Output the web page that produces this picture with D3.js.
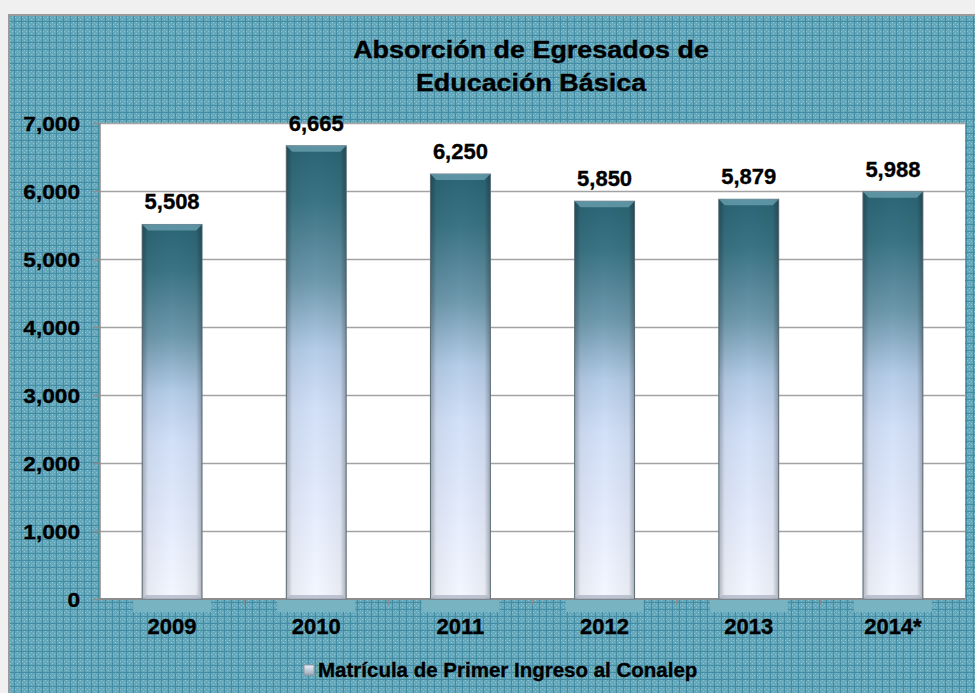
<!DOCTYPE html>
<html>
<head>
    <meta charset='utf-8'>
    <title>Absorción de Egresados de Educación Básica</title>
    <style>
        body { margin: 0; background: #f0f0f0; }
        svg text { font-family: "Liberation Sans", Arial, sans-serif; font-weight: bold; fill: #000; stroke: #000; stroke-width: 0.35px; }
        .grid line { stroke: #a3a3a3; stroke-width: 1.5; }
        .grid path { display: none; }
        .yaxis path { display: none; }
        .yaxis line { stroke: #8c8c8c; stroke-width: 1.5; }
        .yaxis text { font-size: 21px; }
    </style>
</head>
<body>
    <svg id="chart" width="975" height="693"></svg>

    <script src="https://cdn.jsdelivr.net/npm/d3@7"></script>
    <script>

        // data
        const years = ["2009", "2010", "2011", "2012", "2013", "2014*"];
        const matricula = [5508, 6665, 6250, 5850, 5879, 5988];
        const yTicks = [0, 1000, 2000, 3000, 4000, 5000, 6000, 7000];
        const titleLines = ["Absorción de Egresados de", "Educación Básica"];
        const seriesName = "Matrícula de Primer Ingreso al Conalep";

        const W = 975, H = 693;
        const plot = { left: 100, right: 965, top: 123, bottom: 599 };

        const svg = d3.select("#chart");
        const defs = svg.append("defs");

        // teal checked background
        const pat = defs.append("pattern")
            .attr("id", "bgpat")
            .attr("width", 7).attr("height", 7)
            .attr("patternUnits", "userSpaceOnUse");
        pat.append("rect").attr("width", 7).attr("height", 7).attr("fill", "#66a8bb");
        pat.append("rect").attr("x", 0).attr("y", 0).attr("width", 7).attr("height", 1).attr("fill", "#428da4");
        pat.append("rect").attr("x", 0).attr("y", 0).attr("width", 1).attr("height", 7).attr("fill", "#428da4");
        pat.append("rect").attr("x", 3).attr("y", 1).attr("width", 1).attr("height", 1).attr("fill", "#8ec3d0");
        pat.append("rect").attr("x", 3).attr("y", 5).attr("width", 1).attr("height", 1).attr("fill", "#8ec3d0");
        pat.append("rect").attr("x", 1).attr("y", 3).attr("width", 1).attr("height", 1).attr("fill", "#8ec3d0");
        pat.append("rect").attr("x", 5).attr("y", 3).attr("width", 1).attr("height", 1).attr("fill", "#8ec3d0");

        // bar fill
        const bg = defs.append("linearGradient")
            .attr("id", "barGrad")
            .attr("x1", 0).attr("y1", 0).attr("x2", 0).attr("y2", 1);
        [["0%", "#2b6575"], ["12%", "#3a7484"], ["30%", "#6f9aae"], ["45%", "#b5cde8"],
         ["58%", "#d2e0f8"], ["78%", "#e3ebfc"], ["100%", "#f4f7ff"]]
            .forEach(s => bg.append("stop").attr("offset", s[0]).attr("stop-color", s[1]));

        // side shading of the bevel
        const side = defs.append("linearGradient")
            .attr("id", "sideGrad")
            .attr("x1", 0).attr("y1", 0).attr("x2", 1).attr("y2", 0);
        [["0%", "#000", 0.28], ["10%", "#000", 0.05], ["50%", "#000", 0], ["90%", "#000", 0.05], ["100%", "#000", 0.3]]
            .forEach(s => side.append("stop").attr("offset", s[0]).attr("stop-color", s[1]).attr("stop-opacity", s[2]));

        const legGrad = defs.append("linearGradient")
            .attr("id", "legGrad")
            .attr("x1", 0).attr("y1", 0).attr("x2", 0).attr("y2", 1);
        legGrad.append("stop").attr("offset", "0%").attr("stop-color", "#eef2fb");
        legGrad.append("stop").attr("offset", "100%").attr("stop-color", "#9aa6b8");

        // outer frame
        svg.append("rect")
            .attr("x", 9).attr("y", 15)
            .attr("width", W).attr("height", H)
            .attr("fill", "url(#bgpat)")
            .attr("stroke", "#9a9a9a").attr("stroke-width", 2);

        // plot area
        svg.append("rect")
            .attr("x", plot.left).attr("y", plot.top)
            .attr("width", plot.right - plot.left).attr("height", plot.bottom - plot.top)
            .attr("fill", "#fff");

        const x = d3.scaleBand()
            .domain(years)
            .range([plot.left, plot.right])
            .paddingInner(0.584)
            .paddingOuter(0.292);

        const y = d3.scaleLinear()
            .domain([0, 7000])
            .range([plot.bottom, plot.top]);

        // gridlines
        svg.append("g")
            .attr("class", "grid")
            .attr("transform", `translate(${plot.left},0)`)
            .call(d3.axisLeft(y).tickValues(yTicks.slice(1)).tickSize(-(plot.right - plot.left)).tickFormat(""));

        // y axis, labels slightly widened around their right edge
        svg.append("g")
            .attr("class", "yaxis")
            .attr("transform", `translate(${plot.left},0)`)
            .call(d3.axisLeft(y).tickValues(yTicks).tickSize(7).tickPadding(13).tickFormat(d3.format(",")))
            .selectAll("text")
            .attr("dy", "0.35em")
            .attr("transform", "translate(-20,0) scale(1.08,1) translate(20,0)");

        svg.append("line")
            .attr("x1", plot.left).attr("x2", plot.left)
            .attr("y1", plot.top).attr("y2", plot.bottom)
            .attr("stroke", "#8c8c8c").attr("stroke-width", 1.5);

        const data = years.map((yr, i) => ({ year: yr, value: matricula[i] }));
        const bw = x.bandwidth();

        // light strip under the bars
        svg.selectAll(".shadow")
            .data(data)
            .enter()
            .append("rect")
            .attr("x", d => x(d.year) - 9)
            .attr("y", plot.bottom)
            .attr("width", bw + 18)
            .attr("height", 13)
            .attr("fill", "#78b3c2");

        // x axis line
        svg.append("line")
            .attr("x1", plot.left).attr("x2", plot.right)
            .attr("y1", plot.bottom).attr("y2", plot.bottom)
            .attr("stroke", "#8c8c8c").attr("stroke-width", 2);

        // ticks between categories
        svg.selectAll(".xtick")
            .data(years.slice(1))
            .enter()
            .append("line")
            .attr("x1", d => x(d) - x.step() * x.paddingInner() / 2)
            .attr("x2", d => x(d) - x.step() * x.paddingInner() / 2)
            .attr("y1", plot.bottom).attr("y2", plot.bottom + 6)
            .attr("stroke", "#8c8c8c").attr("stroke-width", 1.5);

        const bars = svg.selectAll(".bar")
            .data(data)
            .enter()
            .append("g")
            .attr("class", "bar");

        bars.append("rect")
            .attr("x", d => x(d.year))
            .attr("y", d => y(d.value))
            .attr("width", bw)
            .attr("height", d => y(0) - y(d.value))
            .attr("fill", "url(#barGrad)")
            .attr("stroke", "#6d7f8a")
            .attr("stroke-width", 1);

        bars.append("rect")
            .attr("x", d => x(d.year))
            .attr("y", d => y(d.value))
            .attr("width", bw)
            .attr("height", d => y(0) - y(d.value))
            .attr("fill", "url(#sideGrad)");

        // top bevel
        bars.append("path")
            .attr("d", d => {
                const x0 = x(d.year), x1 = x0 + bw, t = y(d.value), b = 6;
                return `M${x0},${t}L${x1},${t}L${x1 - b},${t + b}L${x0 + b},${t + b}Z`;
            })
            .attr("fill", "#6ea3b1")
            .attr("opacity", 0.75);

        // bottom bevel
        bars.append("path")
            .attr("d", d => {
                const x0 = x(d.year), x1 = x0 + bw, bt = y(0), b = 4;
                return `M${x0},${bt}L${x1},${bt}L${x1 - b},${bt - b}L${x0 + b},${bt - b}Z`;
            })
            .attr("fill", "#a9afc0")
            .attr("opacity", 0.7);

        // value labels
        bars.append("text")
            .attr("x", d => x(d.year) + bw / 2)
            .attr("y", d => y(d.value) - 15)
            .attr("text-anchor", "middle")
            .attr("font-size", "22px")
            .text(d => d3.format(",")(d.value));

        // category labels
        svg.selectAll(".xlabel")
            .data(years)
            .enter()
            .append("text")
            .attr("x", d => x(d) + bw / 2)
            .attr("y", 634)
            .attr("text-anchor", "middle")
            .attr("font-size", "22px")
            .text(d => d);

        // title, a bit stretched like the original
        svg.selectAll(".title")
            .data(titleLines)
            .enter()
            .append("text")
            .attr("transform", (d, i) => `translate(531,${58 + i * 33}) scale(1.17,1)`)
            .attr("text-anchor", "middle")
            .attr("font-size", "23px")
            .text(d => d);

        // legend
        svg.append("rect")
            .attr("x", 304).attr("y", 665)
            .attr("width", 10).attr("height", 10)
            .attr("fill", "url(#legGrad)")
            .attr("stroke", "#8d96a6").attr("stroke-width", 1);

        svg.append("text")
            .attr("x", 318).attr("y", 677)
            .attr("font-size", "20.5px")
            .text(seriesName);

    </script>
</body>
</html>
